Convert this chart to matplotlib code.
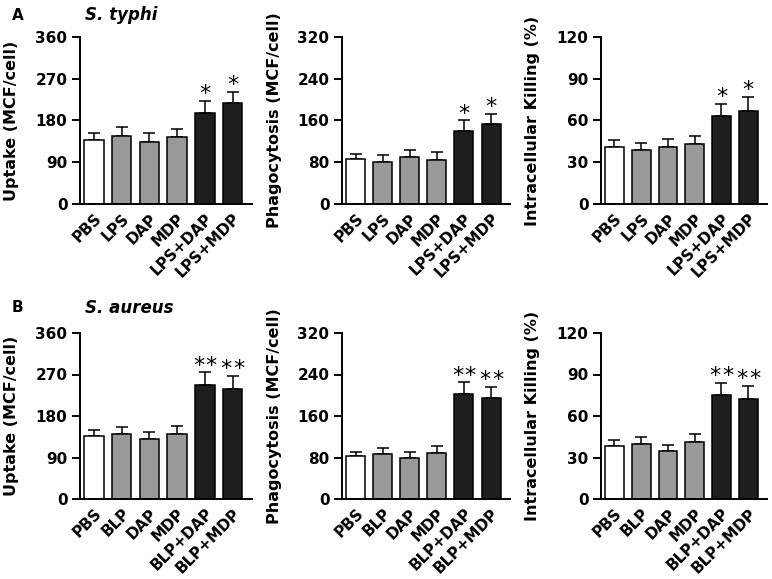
import matplotlib
matplotlib.use('Agg')
import matplotlib.pyplot as plt
import numpy as np

# groups for each row
groups_a = ['PBS', 'LPS', 'DAP', 'MDP', 'LPS+DAP', 'LPS+MDP']
groups_b = ['PBS', 'BLP', 'DAP', 'MDP', 'BLP+DAP', 'BLP+MDP']

# A: S. typhi
uptake_a = [139, 147, 134, 145, 197, 217]
uptake_a_err = [15, 18, 18, 17, 25, 25]
phago_a = [86, 81, 91, 85, 140, 153]
phago_a_err = [10, 12, 13, 14, 20, 20]
kill_a = [41, 39, 41, 43, 63, 67]
kill_a_err = [5, 5, 6, 6, 9, 10]

# B: S. aureus
uptake_b = [136, 140, 131, 142, 247, 239]
uptake_b_err = [13, 17, 14, 16, 28, 28]
phago_b = [82, 87, 80, 89, 203, 195]
phago_b_err = [9, 11, 10, 13, 22, 21]
kill_b = [38, 40, 35, 41, 75, 72]
kill_b_err = [5, 5, 4, 6, 9, 10]

ylabels = ['Uptake (MCF/cell)', 'Phagocytosis (MCF/cell)', 'Intracellular Killing (%)']
ymax = [360, 320, 120]
yticks = [[0, 90, 180, 270, 360], [0, 80, 160, 240, 320], [0, 30, 60, 90, 120]]
colors = ['white', '#999999', '#999999', '#999999', '#1e1e1e', '#1e1e1e']
# number of stars per row (single star for A, double for B)
n_stars = [1, 2]

rows = [
    (groups_a, [(uptake_a, uptake_a_err), (phago_a, phago_a_err), (kill_a, kill_a_err)]),
    (groups_b, [(uptake_b, uptake_b_err), (phago_b, phago_b_err), (kill_b, kill_b_err)]),
]

W, H = 772, 579
fig = plt.figure(figsize=(W / 100, H / 100), dpi=100)
plt.rcParams['font.family'] = 'DejaVu Sans'
plt.rcParams['font.weight'] = 'bold'

# axes boxes in pixels: left, right
cols_px = [(80, 252), (342, 510), (601, 767)]
rows_px = [(37, 204), (333, 499)]

for r, (groups, panels) in enumerate(rows):
    top, bottom = rows_px[r]
    for c, (vals, errs) in enumerate(panels):
        left, right = cols_px[c]
        ax = fig.add_axes([left / W, 1 - bottom / H, (right - left) / W, (bottom - top) / H])
        x = np.arange(len(groups))
        ax.bar(x, vals, width=0.7, color=colors, edgecolor='black', linewidth=1.1, zorder=2)
        ax.errorbar(x, vals, yerr=[[0] * len(vals), errs], fmt='none', ecolor='black',
                    elinewidth=1.1, capsize=4.3, capthick=1.1, zorder=1)
        offs = [0] if n_stars[r] == 1 else [-4.6, 4.6]
        for i in [4, 5]:
            for dx in offs:
                ax.annotate('*', (x[i], vals[i] + errs[i]), xytext=(dx, 0.5),
                            textcoords='offset points', ha='center', va='baseline',
                            fontsize=16, fontweight='normal', annotation_clip=False)
        ax.set_xlim(-0.5, 5.7)
        ax.set_ylim(0, ymax[c])
        ax.set_yticks(yticks[c])
        ax.set_xticks(x)
        ax.set_xticklabels(groups, rotation=45, ha='right', rotation_mode='anchor', fontsize=11)
        ax.tick_params(axis='x', length=0, pad=5)
        ax.tick_params(axis='y', length=6, width=1.4, labelsize=11, pad=3)
        for s in ['top', 'right']:
            ax.spines[s].set_visible(False)
        for s in ['left', 'bottom']:
            ax.spines[s].set_linewidth(1.4)
        fig.text((left - 68) / W, 1 - (top + bottom) / 2 / H, ylabels[c], rotation=90,
                 ha='center', va='center', fontsize=11.5)

fig.text(12 / W, 1 - 15 / H, 'A', ha='left', va='center', fontsize=11)
fig.text(85 / W, 1 - 15 / H, 'S. typhi', ha='left', va='center', fontsize=12, style='italic')
fig.text(12 / W, 1 - 308 / H, 'B', ha='left', va='center', fontsize=11)
fig.text(85 / W, 1 - 308 / H, 'S. aureus', ha='left', va='center', fontsize=12, style='italic')

fig.savefig('out.png', dpi=100)
